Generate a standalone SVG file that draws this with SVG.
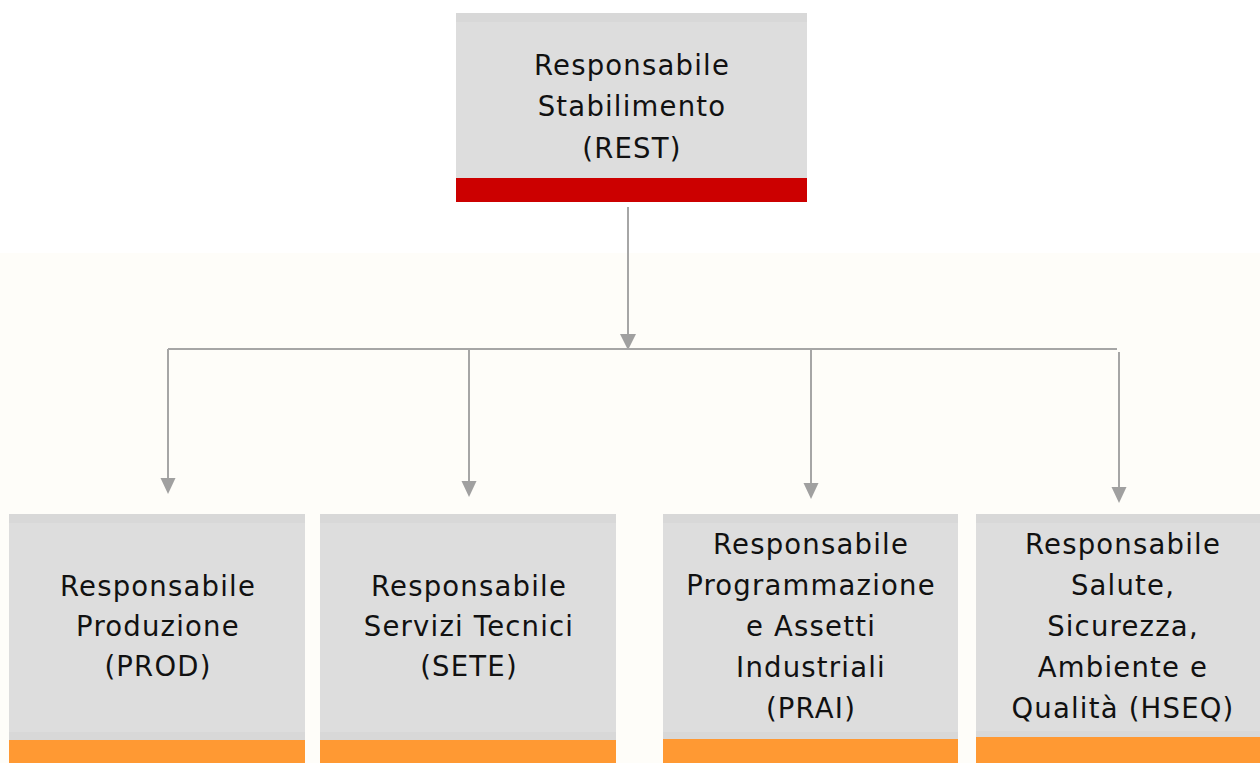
<svg xmlns="http://www.w3.org/2000/svg" width="1260" height="763" viewBox="0 0 1260 763">
<style>
.t{font-family:"DejaVu Sans","Liberation Sans",sans-serif;font-size:27.5px;letter-spacing:1.2px;fill:#111;text-anchor:middle}
.box{fill:#dddddd}
.strip{fill:#d8d8d8}
.ln{stroke:#a6a6a6;stroke-width:2;fill:none}
.ah{fill:#a0a0a0}
</style>
<rect x="0" y="0" width="1260" height="763" fill="#fefdf9"/>
<rect x="0" y="0" width="1260" height="253" fill="#ffffff"/>

<g id="connectors">
<line class="ln" x1="628" y1="207" x2="628" y2="336"/>
<polygon class="ah" points="620,334 636,334 628,350"/>
<line class="ln" x1="168" y1="349" x2="1117" y2="349"/>
<line class="ln" x1="168" y1="349" x2="168" y2="480"/>
<polygon class="ah" points="160.5,478 175.5,478 168,494"/>
<line class="ln" x1="469" y1="350" x2="469" y2="483"/>
<polygon class="ah" points="461.5,481 476.5,481 469,497"/>
<line class="ln" x1="811" y1="350" x2="811" y2="485"/>
<polygon class="ah" points="803.5,483 818.5,483 811,499"/>
<line class="ln" x1="1119" y1="352" x2="1119" y2="489"/>
<polygon class="ah" points="1111.5,487 1126.5,487 1119,503"/>
</g>

<g id="rest">
<rect class="box" x="456" y="13" width="351" height="189"/>
<rect class="strip" x="456" y="13" width="351" height="9"/>
<rect x="456" y="178" width="351" height="24" fill="#cc0000"/>
<text class="t" x="632" y="75">Responsabile</text>
<text class="t" x="632" y="116">Stabilimento</text>
<text class="t" x="632" y="158">(REST)</text>
</g>

<g id="prod">
<rect class="box" x="9" y="514" width="296" height="249"/>
<rect class="strip" x="9" y="514" width="296" height="9"/>
<rect class="strip" x="9" y="732" width="296" height="8"/>
<rect x="9" y="740" width="296" height="23" fill="#ff9933"/>
<text class="t" x="158" y="596">Responsabile</text>
<text class="t" x="158" y="636">Produzione</text>
<text class="t" x="158" y="676">(PROD)</text>
</g>

<g id="sete">
<rect class="box" x="320" y="514" width="296" height="249"/>
<rect class="strip" x="320" y="514" width="296" height="9"/>
<rect class="strip" x="320" y="732" width="296" height="8"/>
<rect x="320" y="740" width="296" height="23" fill="#ff9933"/>
<text class="t" x="469" y="596">Responsabile</text>
<text class="t" x="469" y="636">Servizi Tecnici</text>
<text class="t" x="469" y="676">(SETE)</text>
</g>

<g id="prai">
<rect class="box" x="663" y="514" width="295" height="249"/>
<rect class="strip" x="663" y="514" width="295" height="9"/>
<rect class="strip" x="663" y="732" width="295" height="7"/>
<rect x="663" y="739" width="295" height="24" fill="#ff9933"/>
<text class="t" x="811" y="554">Responsabile</text>
<text class="t" x="811" y="595">Programmazione</text>
<text class="t" x="811" y="636">e Assetti</text>
<text class="t" x="811" y="677">Industriali</text>
<text class="t" x="811" y="718">(PRAI)</text>
</g>

<g id="hseq">
<rect class="box" x="976" y="514" width="295" height="249"/>
<rect class="strip" x="976" y="514" width="295" height="9"/>
<rect class="strip" x="976" y="731" width="295" height="6"/>
<rect x="976" y="737" width="295" height="26" fill="#ff9933"/>
<text class="t" x="1123" y="554">Responsabile</text>
<text class="t" x="1123" y="595">Salute,</text>
<text class="t" x="1123" y="636">Sicurezza,</text>
<text class="t" x="1123" y="677">Ambiente e</text>
<text class="t" x="1123" y="718">Qualità (HSEQ)</text>
</g>
</svg>
